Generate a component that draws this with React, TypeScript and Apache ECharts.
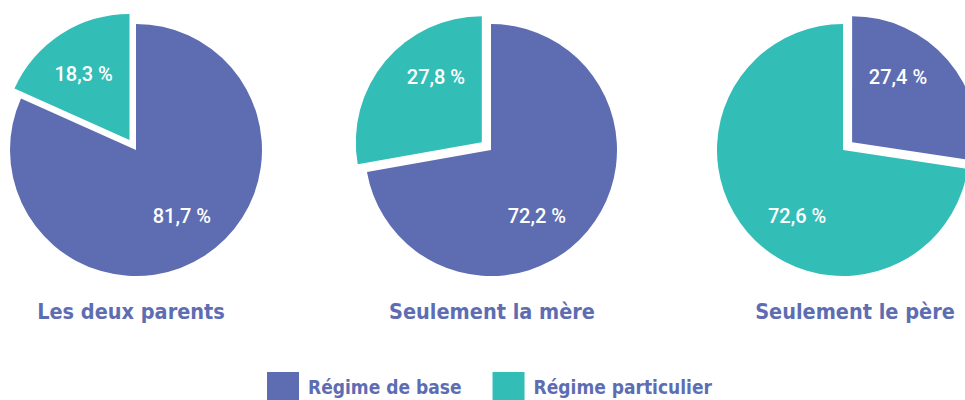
import React, { useEffect, useRef } from "react";
import * as echarts from "echarts";

const categories = ["Régime de base", "Régime particulier"];
const groups = ["Les deux parents", "Seulement la mère", "Seulement le père"];
const baseValues = [81.7, 72.2, 27.4];
const particulierValues = [18.3, 27.8, 72.6];
const selectedCategory = [1, 1, 0];

const PURPLE = "#5E6DB2";
const TEAL = "#33BDB7";
const centers: [number, number][] = [
  [136, 150],
  [491, 150],
  [843, 150],
];
const titleX = [126, 487, 850];
const R = 126;
const OFFSET = 12;
const LABEL_DIST = 80;
const LABEL_TILT = 35; // degrees from vertical axis

const fmt = (v: number) => v.toFixed(1).replace(".", ",") + " %";
const rad = (d: number) => (d * Math.PI) / 180;

export default function App() {
  const ref = useRef<HTMLDivElement>(null);
  useEffect(() => {
    if (!ref.current) return;
    const chart = echarts.init(ref.current, undefined, { renderer: "svg" });

    const labelAnchor = (pieIdx: number, dataIdx: number) => {
      const vals = [baseValues[pieIdx], particulierValues[pieIdx]];
      const total = vals[0] + vals[1];
      const a0 = dataIdx === 0 ? 0 : (vals[0] / total) * 360;
      const span = (vals[dataIdx] / total) * 360;
      const mid = a0 + span / 2;
      let [cx, cy] = centers[pieIdx];
      if (selectedCategory[pieIdx] === dataIdx) {
        cx += OFFSET * Math.sin(rad(mid));
        cy -= OFFSET * Math.cos(rad(mid));
      }
      const small = span < 180;
      let ang: number;
      if (dataIdx === 0) ang = small ? LABEL_TILT : 180 - LABEL_TILT;
      else ang = small ? -LABEL_TILT : 180 + LABEL_TILT;
      return [cx + LABEL_DIST * Math.sin(rad(ang)), cy - LABEL_DIST * Math.cos(rad(ang))];
    };

    const series: any[] = [];
    groups.forEach((g, i) => {
      const data = [
        { name: categories[0], value: baseValues[i], selected: selectedCategory[i] === 0, itemStyle: { color: PURPLE } },
        { name: categories[1], value: particulierValues[i], selected: selectedCategory[i] === 1, itemStyle: { color: TEAL } },
      ];
      series.push({
        type: "pie",
        center: centers[i],
        radius: [0, R],
        startAngle: 90,
        clockwise: true,
        selectedMode: "single",
        selectedOffset: OFFSET,
        silent: true,
        emphasis: { disabled: true },
        itemStyle: { borderWidth: 0 },
        label: { show: false },
        labelLine: { show: false },
        data,
      });
      series.push({
        type: "pie",
        center: centers[i],
        radius: [0, R],
        startAngle: 90,
        clockwise: true,
        selectedMode: false,
        silent: true,
        legendHoverLink: false,
        emphasis: { disabled: true },
        itemStyle: { color: "rgba(0,0,0,0)", borderWidth: 0 },
        label: {
          show: true,
          position: "inside",
          color: "#ffffff",
          fontFamily: "Roboto",
          fontWeight: 500,
          fontSize: 20,
          formatter: (p: any) => fmt(p.value),
        },
        labelLine: { show: false },
        labelLayout: (p: any) => {
          const [x, y] = labelAnchor(i, p.dataIndex);
          return { x, y, align: "center", verticalAlign: "middle" };
        },
        data: data.map((d) => ({ name: d.name, value: d.value })),
      });
    });

    chart.setOption({
      animation: false,
      title: groups.map((g, i) => ({
        text: g,
        left: titleX[i],
        top: 295,
        textAlign: "center",
        textStyle: {
          fontFamily: "DejaVu Sans Condensed",
          fontWeight: "bold",
          fontSize: 21.5,
          color: PURPLE,
        },
      })),
      legend: {
        data: categories,
        top: 367,
        left: 262,
        itemWidth: 32,
        itemHeight: 30,
        itemGap: 31,
        icon: "rect",
        selectedMode: false,
        textStyle: {
          fontFamily: "DejaVu Sans Condensed",
          fontWeight: "bold",
          fontSize: 19,
          color: PURPLE,
          padding: [0, 0, 0, 4],
        },
      },
      series,
    });
    return () => chart.dispose();
  }, []);
  return (
    <div
      ref={ref}
      style={{ position: "absolute", left: 0, top: 0, width: 965, height: 400, background: "#fff" }}
    />
  );
}
